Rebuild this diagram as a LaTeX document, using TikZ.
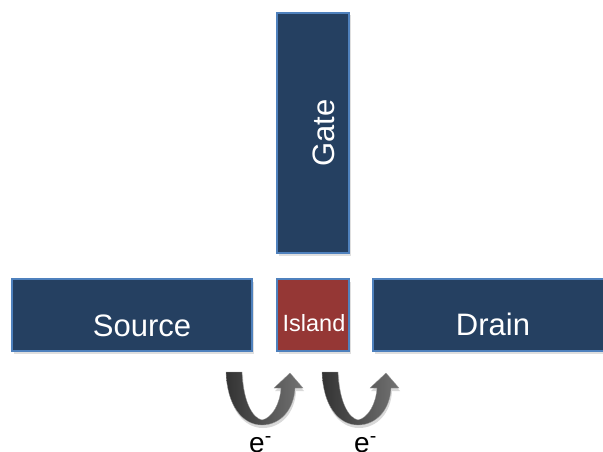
\documentclass[tikz,border=0pt]{standalone}
\usepackage{fontspec}
\setmainfont{Liberation Sans}
\usetikzlibrary{shadows,shadings}

\definecolor{padfill}{RGB}{37,64,97}
\definecolor{padedge}{RGB}{79,129,189}
\definecolor{islandfill}{RGB}{149,55,53}

\tikzset{
  pad/.style={rectangle, draw=padedge, line width=1.6pt, fill=padfill,
    inner sep=0pt, outer sep=0pt,
    drop shadow={opacity=0.25, shadow xshift=1.5pt, shadow yshift=-2.5pt}},
  islandpad/.style={pad, fill=islandfill},
  bigtext/.style={text=white, font=\fontsize{31}{36}\selectfont, inner sep=0pt},
  smalltext/.style={text=white, font=\fontsize{23.5}{28}\selectfont, inner sep=0pt},
  electron/.style={text=black, font=\fontsize{28}{33}\selectfont, inner sep=0pt},
  hop/.style={left color=black!80, right color=black!55, draw=black!40, line width=0.3pt,
    drop shadow={opacity=0.3, shadow xshift=1pt, shadow yshift=-3pt}}
}

\begin{document}
\begin{tikzpicture}[x=1pt, y=-1pt]
\useasboundingbox (0,0) rectangle (603,452);
\clip (0,0) rectangle (603,452);

% electrodes and island
\node[pad, minimum width=72pt, minimum height=240pt] (gate) at (313,133) {};
\node[pad, minimum width=240pt, minimum height=72pt] (source) at (132,315) {};
\node[islandpad, minimum width=72pt, minimum height=72pt] (island) at (313,315) {};
\node[pad, minimum width=234pt, minimum height=72pt] (drain) at (490,315) {};

% labels
\node[bigtext, anchor=base] (sourcelbl) at (142,336) {Source};
\node[bigtext, anchor=base] (drainlbl) at (493,335) {Drain};
\node[bigtext, anchor=base, rotate=90] (gatelbl) at (334,133) {Gate};
\node[smalltext, anchor=base] (islandlbl) at (314,331) {Island};

% tunnelling hops: U-shaped curved arrows
\foreach \dx in {0, 96} {
  \path[hop, shift={(\dx,0)}]
    (226,372) -- (242,372)
    .. controls (243,400) and (252,418) .. (262,420)
    .. controls (272,418) and (280,404) .. (281,388)
    -- (274,388) -- (290,373) -- (303,388) -- (295,388)
    .. controls (294,410) and (280,425) .. (262,425)
    .. controls (242,425) and (227,405) .. (226,372) -- cycle;
}

\node[electron, anchor=base west] (ea) at (249,452) {e\textsuperscript{-}};
\node[electron, anchor=base west] (eb) at (354,452) {e\textsuperscript{-}};
\end{tikzpicture}
\end{document}
